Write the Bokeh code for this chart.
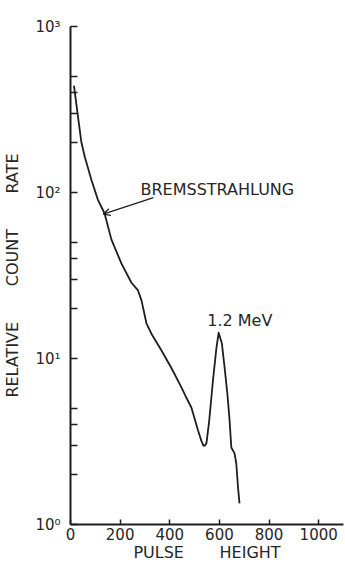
from bokeh.plotting import figure
from bokeh.models import FixedTicker, Range1d, Arrow, OpenHead, ColumnDataSource
from bokeh.core.properties import value
from bokeh.embed import file_html
from bokeh.resources import INLINE

# ---- data ----
pulse_height = [14, 28, 44, 58, 85, 111, 137, 165, 205, 245, 272, 286, 306, 326,
                366, 406, 447, 467, 487, 514, 527, 535, 541, 548, 559, 574, 588, 597, 610,
                621, 632, 641, 648, 661, 668, 675, 681]
count_rate = [440, 303, 200, 163, 118, 90, 75, 52, 37.4, 28.7, 25.7, 22.4, 16.3, 14.1,
              11.2, 8.8, 6.7, 5.8, 5.07, 3.68, 3.2, 3.0, 2.98, 3.1, 4.23, 7.37, 11.6, 14.3, 12.3,
              8.8, 6.15, 4.23, 2.91, 2.68, 2.33, 1.67, 1.34]

x_ticks = [0, 200, 400, 600, 800, 1000]
y_ticks = [1, 10, 100, 1000]
y_tick_labels = ["10\u2070", "10\u00b9", "10\u00b2", "10\u00b3"]
y_minor_ticks = [2, 3, 4, 5, 20, 30, 40, 50, 200, 300, 400, 500]

note_text = ["BREMSSTRAHLUNG", "1.2 MeV"]
note_x = [282, 551]
note_y = [104, 16.9]

arrow_from = (334, 93)
arrow_to = (132, 74)

NB = "\u00a0"
x_title = "PULSE" + NB * 7 + "HEIGHT"
y_title = "RELATIVE" + NB * 7 + "COUNT" + NB * 7 + "RATE"

INK = "#1e1e1e"
TXT = "#262626"
FONT = "DejaVu Sans"

p = figure(width=345, height=566, y_axis_type="log",
           x_range=Range1d(0, 1100), y_range=Range1d(1, 1000),
           output_backend="svg", toolbar_location=None,
           min_border_left=69, min_border_right=2, min_border_top=26, min_border_bottom=42)
p.outline_line_color = None
p.xgrid.visible = False
p.ygrid.visible = False
p.background_fill_color = "white"
p.border_fill_color = "white"

p.line(pulse_height, count_rate, line_color=INK, line_width=1.8, line_join="round")

src = ColumnDataSource(dict(x=note_x, y=note_y, t=note_text))
p.text(x="x", y="y", text="t", source=src, text_font=value(FONT), text_font_size="16px",
       text_color=TXT, text_align="left", text_baseline="middle")

p.add_layout(Arrow(end=OpenHead(size=7, line_color=INK, line_width=1.3),
                   x_start=arrow_from[0], y_start=arrow_from[1],
                   x_end=arrow_to[0], y_end=arrow_to[1],
                   line_color=INK, line_width=1.3))

xa = p.xaxis[0]
xa.ticker = FixedTicker(ticks=x_ticks)
xa.axis_line_color = INK
xa.axis_line_width = 2
xa.major_tick_line_color = INK
xa.major_tick_line_width = 1.5
xa.major_tick_in = 5
xa.major_tick_out = 0
xa.minor_tick_line_color = None
xa.major_label_text_font = FONT
xa.major_label_text_font_size = "15px"
xa.major_label_text_color = TXT
xa.major_label_standoff = 3
xa.axis_label = x_title
xa.axis_label_text_font = FONT
xa.axis_label_text_font_size = "16px"
xa.axis_label_text_font_style = "normal"
xa.axis_label_text_color = TXT
xa.axis_label_standoff = 0

ya = p.yaxis[0]
ya.ticker = FixedTicker(ticks=y_ticks, minor_ticks=y_minor_ticks)
ya.major_label_overrides = {t: l for t, l in zip(y_ticks, y_tick_labels)}
ya.axis_line_color = INK
ya.axis_line_width = 2
ya.major_tick_line_color = INK
ya.major_tick_line_width = 1.5
ya.major_tick_in = 7
ya.major_tick_out = 0
ya.minor_tick_line_color = INK
ya.minor_tick_line_width = 1.5
ya.minor_tick_in = 7
ya.minor_tick_out = 0
ya.major_label_text_font = FONT
ya.major_label_text_font_size = "15px"
ya.major_label_text_color = TXT
ya.major_label_standoff = 10
ya.axis_label = y_title
ya.axis_label_text_font = FONT
ya.axis_label_text_font_size = "16px"
ya.axis_label_text_font_style = "normal"
ya.axis_label_text_color = TXT
ya.axis_label_standoff = 10

open("out.html", "w").write(file_html(p, INLINE))
